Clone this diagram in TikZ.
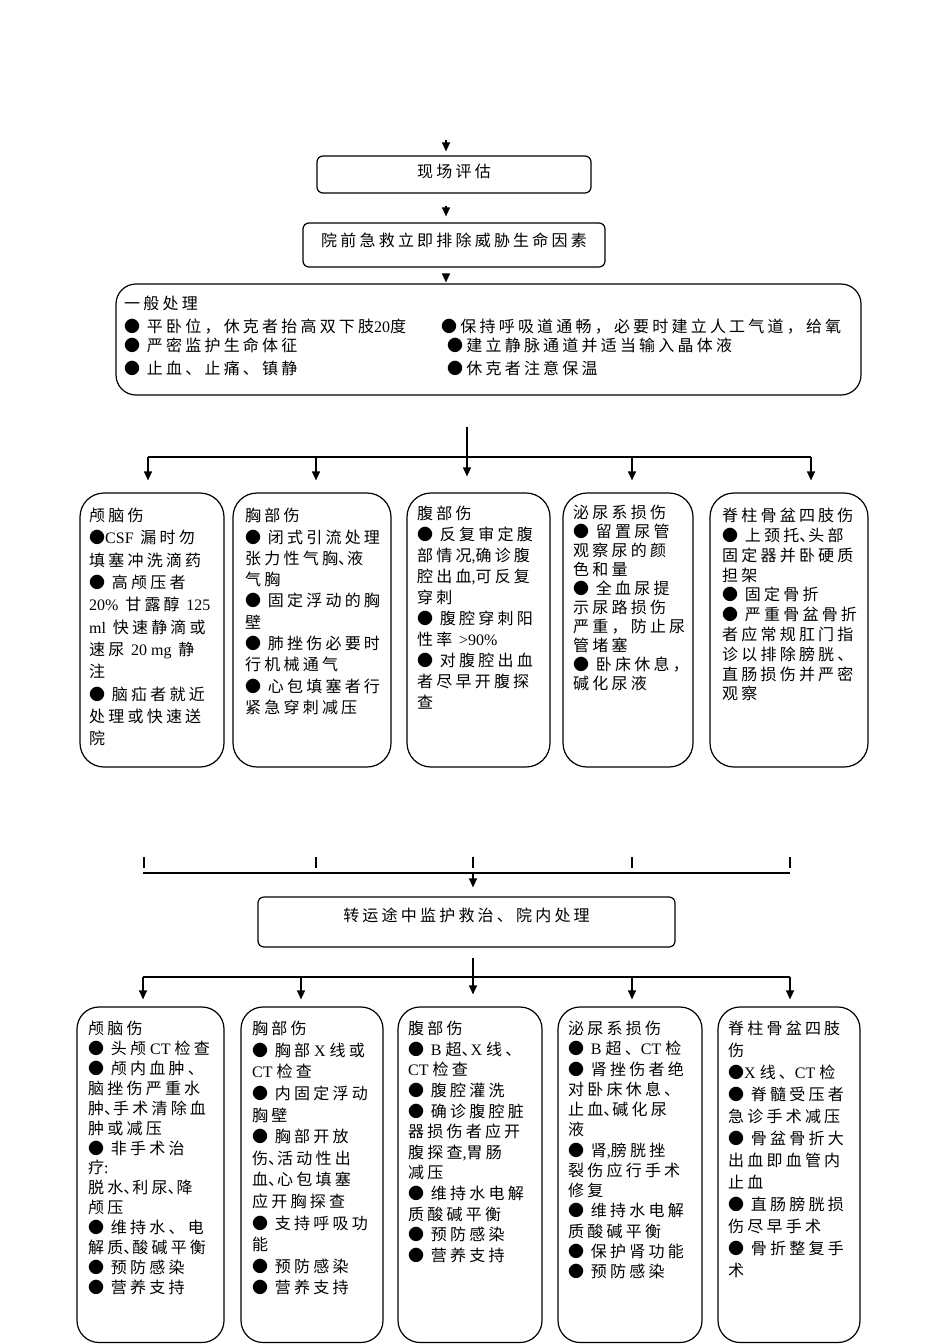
\documentclass[tikz,border=0pt]{standalone}
\usepackage{fontspec}
\setmainfont{Noto Sans CJK SC}[LetterSpace=20]
\newfontfamily\latfont{Liberation Serif}
\newcommand\latn[1]{{\latfont #1}}
\newcommand\nd{\makebox[9pt][l]{、}}
\usetikzlibrary{arrows.meta}
\tikzset{
 ln/.style={line width=1.2pt},
 arr/.style={ln,-{Triangle[length=9pt,width=8pt]}},
 sbox/.style={draw, ln, rounded corners=6pt, inner sep=0pt, font=\fontsize{16}{19}\selectfont},
 cbox/.style={draw, ln, rounded corners=24pt, inner sep=0pt},
 body/.style={font=\fontsize{16}{#1}\selectfont, align=left, anchor=north west, inner sep=0pt},
 gline/.style={font=\fontsize{16}{19}\selectfont, anchor=west, inner sep=0pt},
}
\begin{document}
\begin{tikzpicture}[x=1pt,y=-1pt]
\useasboundingbox (0,0) rectangle (950,1344);
% ---------- top chain ----------
\node[sbox, minimum width=274pt, minimum height=37pt, text height=13pt, text depth=7pt] (b1) at (454,174.5) {现场评估};
\node[sbox, minimum width=302pt, minimum height=44pt, text height=13pt, text depth=11pt] (b2) at (454,245) {院前急救立即排除威胁生命因素};
\node[cbox, rounded corners=20pt, minimum width=745pt, minimum height=111pt] (b3) at (488.5,339.5) {};
\coordinate (s0) at (446,140);
\draw[arr, shorten >=4pt] (s0) -- (s0 |- b1.north);
\draw[arr, shorten <=12pt, shorten >=6pt] (s0 |- b1.south) -- (s0 |- b2.north);
\draw[arr, shorten <=6pt, shorten >=1pt] (s0 |- b2.south) -- (s0 |- b3.north);
% general treatment text
\node[gline] (g0) at (124,303) {一般处理};
\node[gline] (g1) at (124,327) {● 平卧位，休克者抬高双下肢\latn{20}度};
\node[gline] (g2) at (124,345) {● 严密监护生命体征};
\node[gline] (g3) at (124,368) {● 止血、止痛、镇静};
\node[gline] (g4) at (441,327) {●保持呼吸道通畅，必要时建立人工气道，给氧};
\node[gline] (g5) at (447,345) {●建立静脉通道并适当输入晶体液};
\node[gline] (g6) at (447,368) {●休克者注意保温};
% ---------- first row ----------
\node[cbox, minimum width=144pt, minimum height=274pt] (ba) at (152,630) {};
\node[cbox, minimum width=158pt, minimum height=274pt] (bb) at (312,630) {};
\node[cbox, minimum width=143pt, minimum height=274pt] (bc) at (478.5,630) {};
\node[cbox, minimum width=130pt, minimum height=274pt] (bd) at (628,630) {};
\node[cbox, minimum width=158pt, minimum height=274pt] (be) at (789,630) {};
\coordinate (v1) at (467,427);
\coordinate (h1a) at (148,457);
\coordinate (h1b) at (316,457);
\coordinate (h1d) at (632,457);
\coordinate (h1e) at (811,457);
\draw[ln] (h1a) -- (h1e);
\draw[arr, shorten >=16pt] (v1) -- (v1 |- bc.north);
\draw[arr, shorten >=12pt] (h1a) -- (h1a |- ba.north);
\draw[arr, shorten >=12pt] (h1b) -- (h1b |- bb.north);
\draw[arr, shorten >=12pt] (h1d) -- (h1d |- bd.north);
\draw[arr, shorten >=12pt] (h1e) -- (h1e |- be.north);
\node[body=22.3] (ta) at (89,508) {颅脑伤\\●\latn{CSF} 漏时勿\\填塞冲洗滴药\\● 高颅压者\\\latn{20\%} 甘露醇 \latn{125}\\\latn{ml} 快速静滴或\\速尿 \latn{20 mg} 静\\注\\● 脑疝者就近\\处理或快速送\\院};
\node[body=21.3] (tb) at (245,508) {胸部伤\\● 闭式引流处理\\张力性气胸\nd 液\\气胸\\● 固定浮动的胸\\壁\\● 肺挫伤必要时\\行机械通气\\● 心包填塞者行\\紧急穿刺减压};
\node[body=21] (tc) at (417,506) {腹部伤\\● 反复审定腹\\部情况\latn{,}确诊腹\\腔出血\latn{,}可反复\\穿刺\\● 腹腔穿刺阳\\性率 \latn{>90\%}\\● 对腹腔出血\\者尽早开腹探\\查};
\node[body=19] (td) at (573,505) {泌尿系损伤\\● 留置尿管\\观察尿的颜\\色和量\\● 全血尿提\\示尿路损伤\\严重，防止尿\\管堵塞\\● 卧床休息，\\碱化尿液};
\node[body=19.8] (te) at (722,508) {脊柱骨盆四肢伤\\● 上颈托\nd 头部\\固定器并卧硬质\\担架\\● 固定骨折\\● 严重骨盆骨折\\者应常规肛门指\\诊以排除膀胱、\\直肠损伤并严密\\观察};
% ---------- second part ----------
\coordinate (k1) at (144,857);
\coordinate (k2) at (316,857);
\coordinate (k3) at (473,857);
\coordinate (k4) at (632,857);
\coordinate (k5) at (790,857);
\foreach \k in {k1,k2,k3,k4,k5} \draw[ln] (\k) -- ++(0,11);
\coordinate (c1) at (143,873);
\coordinate (c3) at (473,873);
\coordinate (c5) at (790,873);
\draw[ln] (c1) -- (c5);
\node[sbox, minimum width=417pt, minimum height=50pt, text height=13pt, text depth=15pt] (m) at (466.5,922) {转运途中监护救治、院内处理};
\draw[arr, shorten >=9pt] (c3) -- (c3 |- m.north);
% ---------- second row ----------
\node[cbox, rounded corners=22pt, minimum width=147pt, minimum height=335.5pt] (pa) at (150.5,1174.75) {};
\node[cbox, rounded corners=22pt, minimum width=142pt, minimum height=335.5pt] (pb) at (312,1174.75) {};
\node[cbox, rounded corners=22pt, minimum width=144pt, minimum height=335.5pt] (pc) at (470,1174.75) {};
\node[cbox, rounded corners=22pt, minimum width=144pt, minimum height=335.5pt] (pd) at (630,1174.75) {};
\node[cbox, rounded corners=22pt, minimum width=142pt, minimum height=335.5pt] (pe) at (789,1174.75) {};
\coordinate (v2) at (473,958);
\coordinate (d1) at (143,977);
\coordinate (d2) at (301,977);
\coordinate (d4) at (632,977);
\coordinate (d5) at (790,977);
\draw[ln] (d1) -- (d5);
\draw[arr, shorten >=12pt] (v2) -- (v2 |- pc.north);
\draw[arr, shorten >=7pt] (d1) -- (d1 |- pa.north);
\draw[arr, shorten >=7pt] (d2) -- (d2 |- pb.north);
\draw[arr, shorten >=7pt] (d4) -- (d4 |- pd.north);
\draw[arr, shorten >=7pt] (d5) -- (d5 |- pe.north);
\node[body=19.9] (qa) at (88,1021) {颅脑伤\\● 头颅\latn{ CT }检查\\● 颅内血肿、\\脑挫伤严重水\\肿\nd 手术清除血\\肿或减压\\● 非手术治\\疗\latn{:}\\脱水\nd 利尿\nd 降\\颅压\\● 维持水、电\\解质\nd 酸碱平衡\\● 预防感染\\● 营养支持};
\node[body=21.6] (qb) at (252,1021) {胸部伤\\● 胸部\latn{ X }线或\\\latn{CT }检查\\● 内固定浮动\\胸壁\\● 胸部开放\\伤\nd 活动性出\\血\nd 心包填塞\\应开胸探查\\● 支持呼吸功\\能\\● 预防感染\\● 营养支持};
\node[body=20.6] (qc) at (408,1021) {腹部伤\\● \latn{B }超\nd\latn{X }线、\\\latn{CT }检查\\● 腹腔灌洗\\● 确诊腹腔脏\\器损伤者应开\\腹探查\latn{,}胃肠\\减压\\● 维持水电解\\质酸碱平衡\\● 预防感染\\● 营养支持};
\node[body=20.25] (qd) at (568,1021) {泌尿系损伤\\● \latn{B }超、\latn{CT }检\\● 肾挫伤者绝\\对卧床休息、\\止血\nd 碱化尿\\液\\● 肾\latn{,}膀胱挫\\裂伤应行手术\\修复\\● 维持水电解\\质酸碱平衡\\● 保护肾功能\\● 预防感染};
\node[body=22] (qe) at (728,1021) {脊柱骨盆四肢\\伤\\●\latn{X }线、\latn{CT }检\\● 脊髓受压者\\急诊手术减压\\● 骨盆骨折大\\出血即血管内\\止血\\● 直肠膀胱损\\伤尽早手术\\● 骨折整复手\\术};
\end{tikzpicture}
\end{document}
